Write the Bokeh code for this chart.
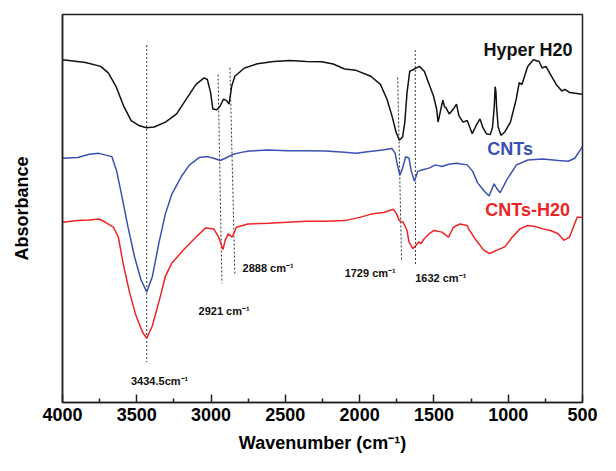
from bokeh.plotting import figure
from bokeh.models import Range1d, FixedTicker, ColumnDataSource
from bokeh.core.properties import value
from bokeh.embed import file_html
from bokeh.resources import INLINE

# ---------------- data ----------------
hyper_wn = [4000, 3846, 3743, 3692, 3641, 3589, 3538, 3487, 3435, 3384, 3307, 3232, 3167, 3101,
            3047, 3025, 3003, 2988, 2960, 2938, 2916, 2894, 2879, 2861, 2840, 2775, 2688, 2578,
            2469, 2358, 2255, 2178, 2101, 2024, 1925, 1860, 1816, 1783, 1755, 1733, 1711, 1696,
            1681, 1663, 1631, 1598, 1565, 1536, 1503, 1482, 1472, 1456, 1440, 1428, 1420, 1397,
            1369, 1348, 1332, 1304, 1276, 1242, 1216, 1190, 1172, 1147, 1121, 1106, 1094, 1088,
            1083, 1078, 1068, 1049, 1023, 985, 946, 926, 908, 869, 831, 792, 772, 746, 715, 677,
            639, 618, 587, 500]
hyper_abs = [348, 345.3, 341.3, 334.7, 321.3, 301.3, 286.3, 281.3, 279, 279.7, 284.7, 293, 308, 323,
             329.7, 328, 314.7, 298, 297.3, 301.3, 308, 306.3, 303, 321.3, 331.3, 339.7, 344, 346.3,
             347.3, 346.3, 346, 343.7, 338.7, 337.3, 331.3, 323, 308, 291.3, 274.7, 266.3, 269.7, 284.7,
             314.7, 336.3, 338.7, 341.3, 336.3, 324.7, 311.3, 298, 284.7, 296, 307, 300, 299.7, 293,
             298, 303, 291.3, 284.7, 286.3, 273, 281.3, 288, 279.7, 273, 272, 279, 300, 320.7,
             316, 300, 280, 271.3, 274.7, 284.7, 308, 324.7, 323, 341.3, 348, 346.3, 339.7, 341.3, 333, 323,
             316.3, 318, 314.7, 313]

cnt_wn = [4000, 3897, 3820, 3755, 3668, 3635, 3603, 3559, 3515, 3472, 3433, 3395, 3352, 3308, 3265,
          3199, 3145, 3080, 3025, 2982, 2938, 2905, 2851, 2796, 2743, 2614, 2486, 2358, 2229, 2101,
          2024, 1947, 1845, 1783, 1761, 1746, 1729, 1711, 1690, 1668, 1652, 1631, 1609, 1576, 1533,
          1489, 1446, 1402, 1348, 1276, 1239, 1206, 1162, 1129, 1095, 1075, 1054, 1010, 944, 868,
          770, 661, 596, 552, 508, 500]
cnt_abs = [248, 248.7, 252, 253, 249.7, 234.7, 211.3, 178, 148, 124.7, 112.3, 128, 161.3, 191.3, 211.3,
           229.7, 241.3, 248.7, 249.7, 248, 245.7, 248, 252, 254, 255.3, 256.3, 255.7, 255.7, 255.3, 254,
           253, 254.7, 256.3, 258, 253, 241.3, 230.7, 238, 249.7, 248, 234.7, 224.7, 234.7, 236.3, 238,
           241.3, 239.7, 242, 243, 241.3, 234.7, 223, 214.7, 209.7, 222, 217, 213, 226, 241.3, 246.3,
           247.3, 245.7, 245, 248, 258, 260]

cnth_wn = [4000, 3897, 3820, 3755, 3711, 3657, 3624, 3592, 3548, 3505, 3461, 3433, 3395, 3341, 3308,
           3265, 3188, 3101, 3036, 2982, 2949, 2920, 2905, 2884, 2858, 2829, 2753, 2614, 2486, 2358,
           2229, 2101, 1999, 1922, 1838, 1773, 1750, 1733, 1707, 1681, 1668, 1642, 1620, 1603, 1587,
           1565, 1533, 1500, 1446, 1402, 1369, 1325, 1276, 1267, 1216, 1165, 1126, 1075, 1023, 972,
           921, 869, 818, 767, 715, 664, 626, 587, 562, 536, 500]
cnth_abs = [183, 184.7, 185.3, 186.3, 183, 178, 168, 141.3, 111.3, 88, 71.3, 65.3, 78, 108, 128,
            141.3, 154.7, 168, 177.3, 176.3, 168, 155.3, 164.7, 171.3, 168, 178, 181.3, 182, 183, 184,
            184, 184.7, 188, 191.3, 193, 196.3, 191.3, 184.7, 183, 174.7, 163, 156.3, 159.7, 163, 161.3,
            166.3, 171.3, 174.7, 173, 168, 178, 181.3, 179.7, 176.3, 164.7, 154.7, 151.3, 154.7, 158, 168,
            176.3, 179.7, 178.7, 176.3, 174.7, 171.3, 164.7, 168, 178, 188, 188]

series_names = ["Hyper H20", "CNTs", "CNTs-H20"]
series_colors = ["#111111", "#3c50b4", "#ee2424"]

# peak marker lines (wavenumber / absorbance at top and bottom ends)
mark_x0 = [3433, 2953, 2873, 1744, 1626]
mark_y0 = [363, 333, 340, 330, 358]
mark_x1 = [3433, 2927, 2840, 1718, 1624]
mark_y1 = [41, 121, 131, 145, 140]

peak_text = ["3434.5cm\u207b\u00b9", "2921 cm\u207b\u00b9", "2888 cm\u207b\u00b9", "1729 cm\u207b\u00b9", "1632 cm\u207b\u00b9"]
peak_tx = [3539, 3084, 2788, 2101, 1626]
peak_ty = [22, 93, 137, 132, 126]

name_tx = [1167, 1141, 1154]
name_ty = [358, 257, 195]

xticks = [4000, 3500, 3000, 2500, 2000, 1500, 1000, 500]
xminor = [3750, 3250, 2750, 2250, 1750, 1250, 750]

FONT = "Liberation Sans"

p = figure(width=600, height=455, x_range=Range1d(4000, 500), y_range=Range1d(0, 394),
           output_backend="svg", toolbar_location=None,
           min_border_top=14, min_border_right=18, min_border_left=62, min_border_bottom=10)
p.background_fill_color = "white"
p.border_fill_color = "white"
p.outline_line_color = "#222222"
p.outline_line_width = 1.5
p.xgrid.visible = False
p.ygrid.visible = False

ax = p.xaxis[0]
ax.ticker = FixedTicker(ticks=xticks, minor_ticks=xminor)
ax.major_tick_in = 8
ax.major_tick_out = 0
ax.minor_tick_in = 4
ax.minor_tick_out = 0
ax.major_tick_line_color = "#222222"
ax.minor_tick_line_color = "#222222"
ax.major_tick_line_width = 1.5
ax.minor_tick_line_width = 1.5
ax.axis_line_color = "#222222"
ax.axis_line_width = 1.5
ax.major_label_text_font = FONT
ax.major_label_text_font_size = "18px"
ax.major_label_text_font_style = "bold"
ax.major_label_text_color = "black"
ax.major_label_standoff = 5
ax.axis_label = "Wavenumber (cm\u207b\u00b9)"
ax.axis_label_text_font = FONT
ax.axis_label_text_font_size = "18px"
ax.axis_label_text_font_style = "bold"
ax.axis_label_text_color = "black"
ax.axis_label_standoff = 9

ay = p.yaxis[0]
ay.ticker = FixedTicker(ticks=[])
ay.major_tick_in = 0
ay.major_tick_out = 0
ay.minor_tick_in = 0
ay.minor_tick_out = 0
ay.major_label_standoff = 0
ay.axis_line_color = "#222222"
ay.axis_line_width = 1.5
ay.axis_label = "Absorbance"
ay.axis_label_text_font = FONT
ay.axis_label_text_font_size = "18px"
ay.axis_label_text_font_style = "bold"
ay.axis_label_text_color = "black"
ay.axis_label_standoff = 31

# marker lines
p.segment(x0=mark_x0, y0=mark_y0, x1=mark_x1, y1=mark_y1,
          line_color="#333333", line_width=1, line_dash="2 2")

# spectra
for xs, ys, col in [(hyper_wn, hyper_abs, series_colors[0]),
                    (cnt_wn, cnt_abs, series_colors[1]),
                    (cnth_wn, cnth_abs, series_colors[2])]:
    p.line(xs, ys, line_color=col, line_width=1.5)

# series names
names_src = ColumnDataSource(dict(x=name_tx, y=name_ty, t=series_names, c=series_colors))
p.text(x="x", y="y", text="t", text_color="c", source=names_src,
       text_font=value(FONT), text_font_style="bold", text_font_size="18px",
       text_align="left", text_baseline="middle")

# peak labels
peaks_src = ColumnDataSource(dict(x=peak_tx, y=peak_ty, t=peak_text))
p.text(x="x", y="y", text="t", source=peaks_src, text_color="#111111",
       text_font=value(FONT), text_font_style="bold", text_font_size="11px",
       text_align="left", text_baseline="middle")

open("out.html", "w").write(file_html(p, INLINE))
